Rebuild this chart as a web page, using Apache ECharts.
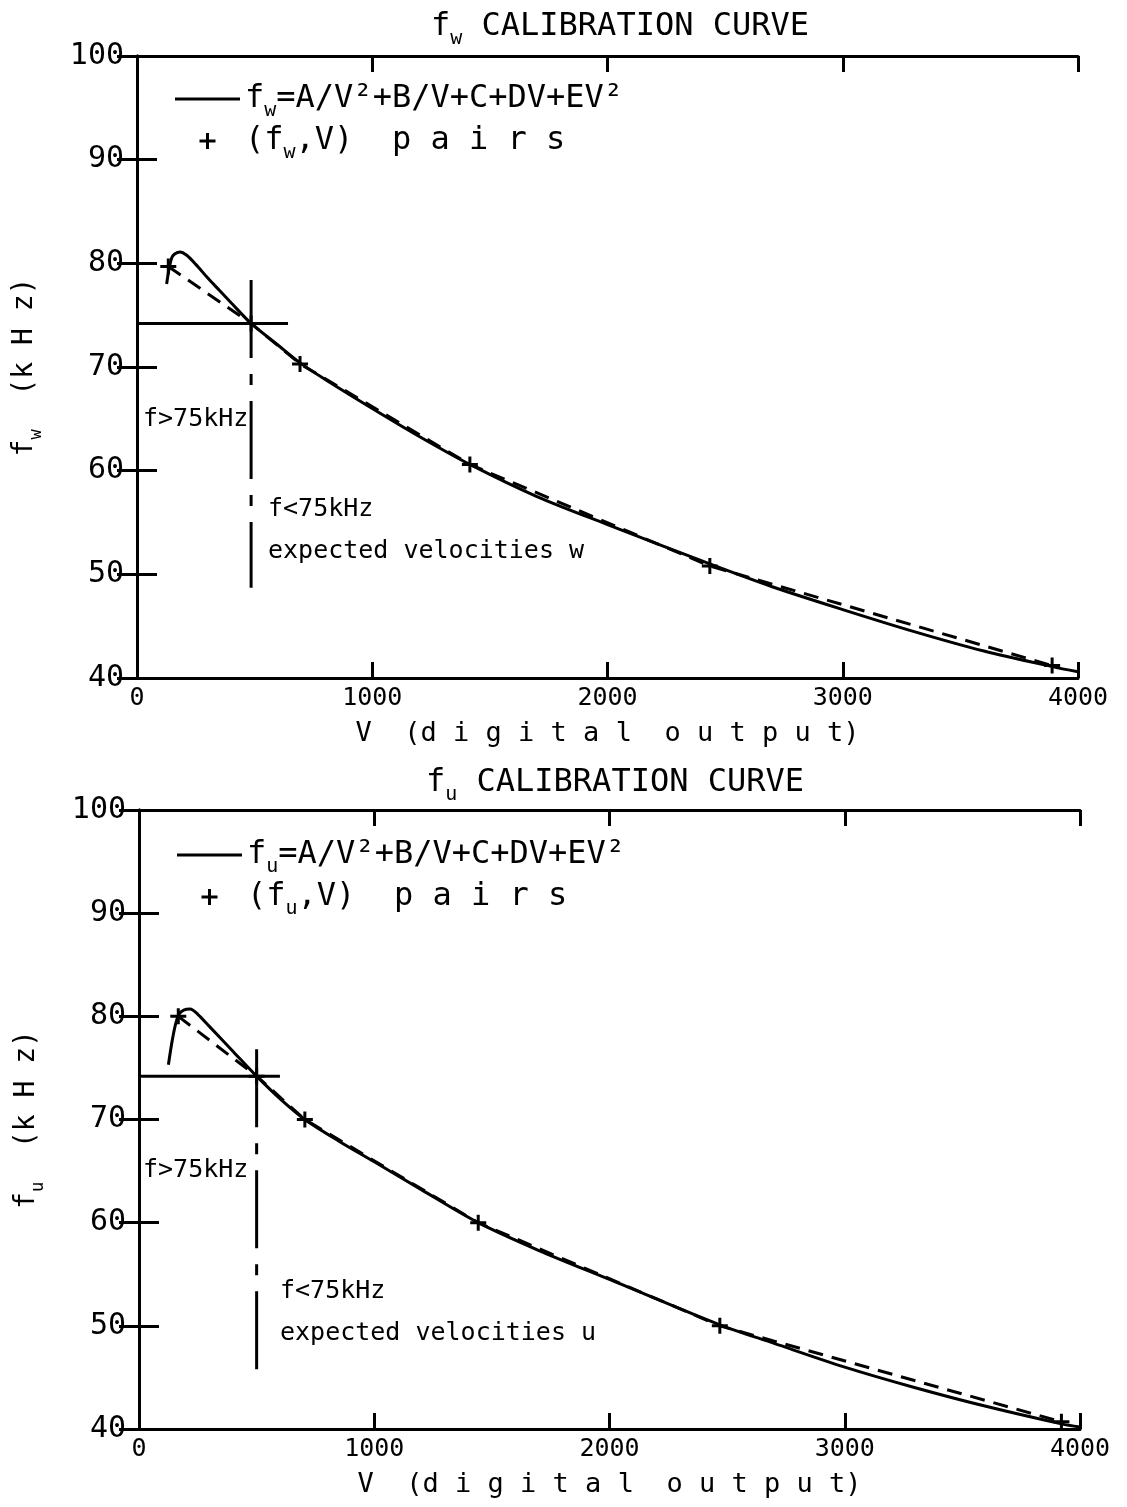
<!DOCTYPE html>
<html><head><meta charset="utf-8">
<script src="https://cdn.jsdelivr.net/npm/echarts@6/dist/echarts.min.js"></script>
<style>html,body{margin:0;padding:0;background:#fff}#c{width:1127px;height:1507px}</style>
</head><body><div id="c"></div>
<script>
// ---------- data ----------
const xTicks = [0, 1000, 2000, 3000, 4000];
const yTicks = [40, 50, 60, 70, 80, 90, 100];

// f_w chart
const wFitV = [126, 135, 147, 160, 183, 210, 250, 300, 350, 400, 485, 600, 693, 800, 1000, 1200, 1415, 1700, 2000, 2435, 2700, 3000, 3300, 3600, 3890, 4000];
const wFitF = [78.0, 79.3, 80.5, 80.9, 81.1, 80.8, 79.9, 78.6, 77.4, 76.2, 74.2, 72.1, 70.4, 68.8, 66.0, 63.3, 60.6, 57.5, 54.8, 51.0, 48.8, 46.6, 44.5, 42.6, 41.1, 40.6];
const wPairV = [133, 485, 693, 1415, 2435, 3890];
const wPairF = [79.7, 74.2, 70.3, 60.6, 50.8, 41.2];
const wRefHV = [0, 642];
const wRefHF = [74.2, 74.2];
const wRefVV = [485, 485];
const wRefVF = [78.4, 48.7];

// f_u chart
const uFitV = [125, 140, 155, 170, 190, 217, 250, 300, 400, 500, 600, 705, 850, 1000, 1200, 1442, 1700, 2000, 2469, 2700, 3000, 3300, 3600, 3921, 4000];
const uFitF = [75.3, 77.5, 79.2, 80.2, 80.6, 80.7, 80.2, 79.0, 76.6, 74.2, 72.0, 70.0, 67.9, 65.9, 63.2, 60.0, 57.3, 54.5, 50.1, 48.3, 46.0, 44.0, 42.2, 40.5, 40.2];
const uPairV = [167, 500, 705, 1442, 2469, 3921];
const uPairF = [80.0, 74.2, 70.0, 60.0, 50.0, 40.7];
const uRefHV = [0, 599];
const uRefHF = [74.2, 74.2];
const uRefVV = [500, 500];
const uRefVF = [76.8, 45.7];

// ---------- helpers ----------
const FONT = '"DejaVu Sans Mono", monospace';
const zip = (a, b) => a.map((v, i) => [v, b[i]]);
const richOf = (size) => ({
  a: { fontSize: size, fontFamily: FONT, fontWeight: 'normal', lineHeight: size + 12, color: '#000' },
  s: { fontSize: Math.round(size * 0.62), fontFamily: FONT, fontWeight: 'normal', verticalAlign: 'bottom', lineHeight: Math.round(size * 0.62), color: '#000' }
});
const PLUS = 'path://M6.5,0H9.5V6.5H16V9.5H9.5V16H6.5V9.5H0V6.5H6.5Z';
const LINEICON = 'path://M0,0H65V3H0Z';

const legendText = {
  'fw fit': '{a|f}{s|w}{a|=A/V²+B/V+C+DV+EV²}',
  'fw pairs': '{a|(f}{s|w}{a|,V)  p a i r s}',
  'fu fit': '{a|f}{s|u}{a|=A/V²+B/V+C+DV+EV²}',
  'fu pairs': '{a|(f}{s|u}{a|,V)  p a i r s}'
};

function axesFor(gi) {
  const axisLine = { show: true, lineStyle: { color: '#000', width: 3 } };
  const xs = [
    { type: 'value', gridIndex: gi, position: 'bottom', min: xTicks[0], max: xTicks[xTicks.length - 1], interval: 1000,
      axisLine, axisTick: { inside: true, length: 16, lineStyle: { width: 3, color: '#000' } },
      axisLabel: { color: '#000', fontFamily: FONT, fontSize: 25, margin: 8, formatter: v => String(v) },
      splitLine: { show: false },
      name: 'V  (d i g i t a l  o u t p u t)', nameLocation: 'middle', nameGap: 42,
      nameTextStyle: { color: '#000', fontFamily: FONT, fontSize: 27 } },
    { type: 'value', gridIndex: gi, position: 'top', min: 0, max: 4000, interval: 1000,
      axisLine, axisTick: { inside: true, length: 16, lineStyle: { width: 3, color: '#000' } },
      axisLabel: { show: false }, splitLine: { show: false } }
  ];
  const sub = gi === 0 ? 'w' : 'u';
  const ys = [
    { type: 'value', gridIndex: gi, position: 'left', min: yTicks[0], max: yTicks[yTicks.length - 1], interval: 10,
      axisLine, axisTick: { inside: true, length: 20, lineStyle: { width: 3, color: '#000' } },
      axisLabel: { color: '#000', fontFamily: FONT, fontSize: 30, margin: 13 },
      splitLine: { show: false },
      name: '{a|f}{s|' + sub + '}{a|  (k H z)}', nameLocation: 'middle', nameGap: 92,
      nameTextStyle: { rich: richOf(28) } },
    { type: 'value', gridIndex: gi, position: 'right', min: 40, max: 100, interval: 10,
      axisLine, axisTick: { inside: true, length: 20, lineStyle: { width: 3, color: '#000' } },
      axisLabel: { show: false }, splitLine: { show: false } }
  ];
  return { xs, ys };
}

function seriesFor(gi, key, fitV, fitF, pairV, pairF, hV, hF, vV, vF) {
  const xi = gi * 2, yi = gi * 2;
  return [
    { name: key + ' fit', type: 'line', xAxisIndex: xi, yAxisIndex: yi, data: zip(fitV, fitF),
      smooth: 0.3, showSymbol: false, symbol: 'none', lineStyle: { color: '#000', width: 3 }, itemStyle: { color: '#000' }, z: 5 },
    { name: key + ' chord', type: 'line', xAxisIndex: xi, yAxisIndex: yi, data: zip(pairV, pairF),
      showSymbol: false, symbol: 'none', lineStyle: { color: '#000', width: 3, type: [15, 9] }, z: 4 },
    { name: key + ' pairs', type: 'scatter', xAxisIndex: xi, yAxisIndex: yi, data: zip(pairV, pairF),
      symbol: PLUS, symbolSize: 16, itemStyle: { color: '#000', opacity: 1 }, z: 6 },
    { name: key + ' refH', type: 'line', xAxisIndex: xi, yAxisIndex: yi, data: zip(hV, hF),
      showSymbol: false, symbol: 'none', lineStyle: { color: '#000', width: 3 }, z: 3 },
    { name: key + ' refV', type: 'line', xAxisIndex: xi, yAxisIndex: yi, data: zip(vV, vF),
      showSymbol: false, symbol: 'none', lineStyle: { color: '#000', width: 3, type: [78, 16, 11, 16] }, z: 3 }
  ];
}

const a0 = axesFor(0), a1 = axesFor(1);
const ANNOT = { font: '25px "DejaVu Sans Mono", monospace', fill: '#000' };

const option = {
  animation: false,
  backgroundColor: '#fff',
  title: [
    { text: '{a|f}{s|w}{a| CALIBRATION CURVE}', left: 615, top: 0, textAlign: 'center', textStyle: { rich: richOf(32) } },
    { text: '{a|f}{s|u}{a| CALIBRATION CURVE}', left: 610, top: 756, textAlign: 'center', textStyle: { rich: richOf(32) } }
  ],
  legend: [
    { orient: 'vertical', left: 170, top: 78, itemWidth: 65, itemHeight: 16, itemGap: 4,
      data: [{ name: 'fw fit', icon: LINEICON }, { name: 'fw pairs', icon: PLUS }],
      formatter: n => legendText[n], textStyle: { rich: richOf(32) }, selectedMode: false },
    { orient: 'vertical', left: 172, top: 834, itemWidth: 65, itemHeight: 16, itemGap: 4,
      data: [{ name: 'fu fit', icon: LINEICON }, { name: 'fu pairs', icon: PLUS }],
      formatter: n => legendText[n], textStyle: { rich: richOf(32) }, selectedMode: false }
  ],
  grid: [
    { left: 137, top: 56, width: 941, height: 622 },
    { left: 139, top: 810, width: 941, height: 619 }
  ],
  xAxis: [...a0.xs, ...a1.xs],
  yAxis: [...a0.ys, ...a1.ys],
  series: [
    ...seriesFor(0, 'fw', wFitV, wFitF, wPairV, wPairF, wRefHV, wRefHF, wRefVV, wRefVF),
    ...seriesFor(1, 'fu', uFitV, uFitF, uPairV, uPairF, uRefHV, uRefHF, uRefVV, uRefVF)
  ],
  graphic: [
    { type: 'text', left: 143, top: 407, style: Object.assign({ text: 'f>75kHz' }, ANNOT) },
    { type: 'text', left: 268, top: 497, style: Object.assign({ text: 'f<75kHz' }, ANNOT) },
    { type: 'text', left: 268, top: 539, style: Object.assign({ text: 'expected velocities w' }, ANNOT) },
    { type: 'text', left: 143, top: 1158, style: Object.assign({ text: 'f>75kHz' }, ANNOT) },
    { type: 'text', left: 280, top: 1279, style: Object.assign({ text: 'f<75kHz' }, ANNOT) },
    { type: 'text', left: 280, top: 1321, style: Object.assign({ text: 'expected velocities u' }, ANNOT) }
  ]
};

const chart = echarts.init(document.getElementById('c'), null, { renderer: 'canvas' });
chart.setOption(option);
</script>
</body></html>
